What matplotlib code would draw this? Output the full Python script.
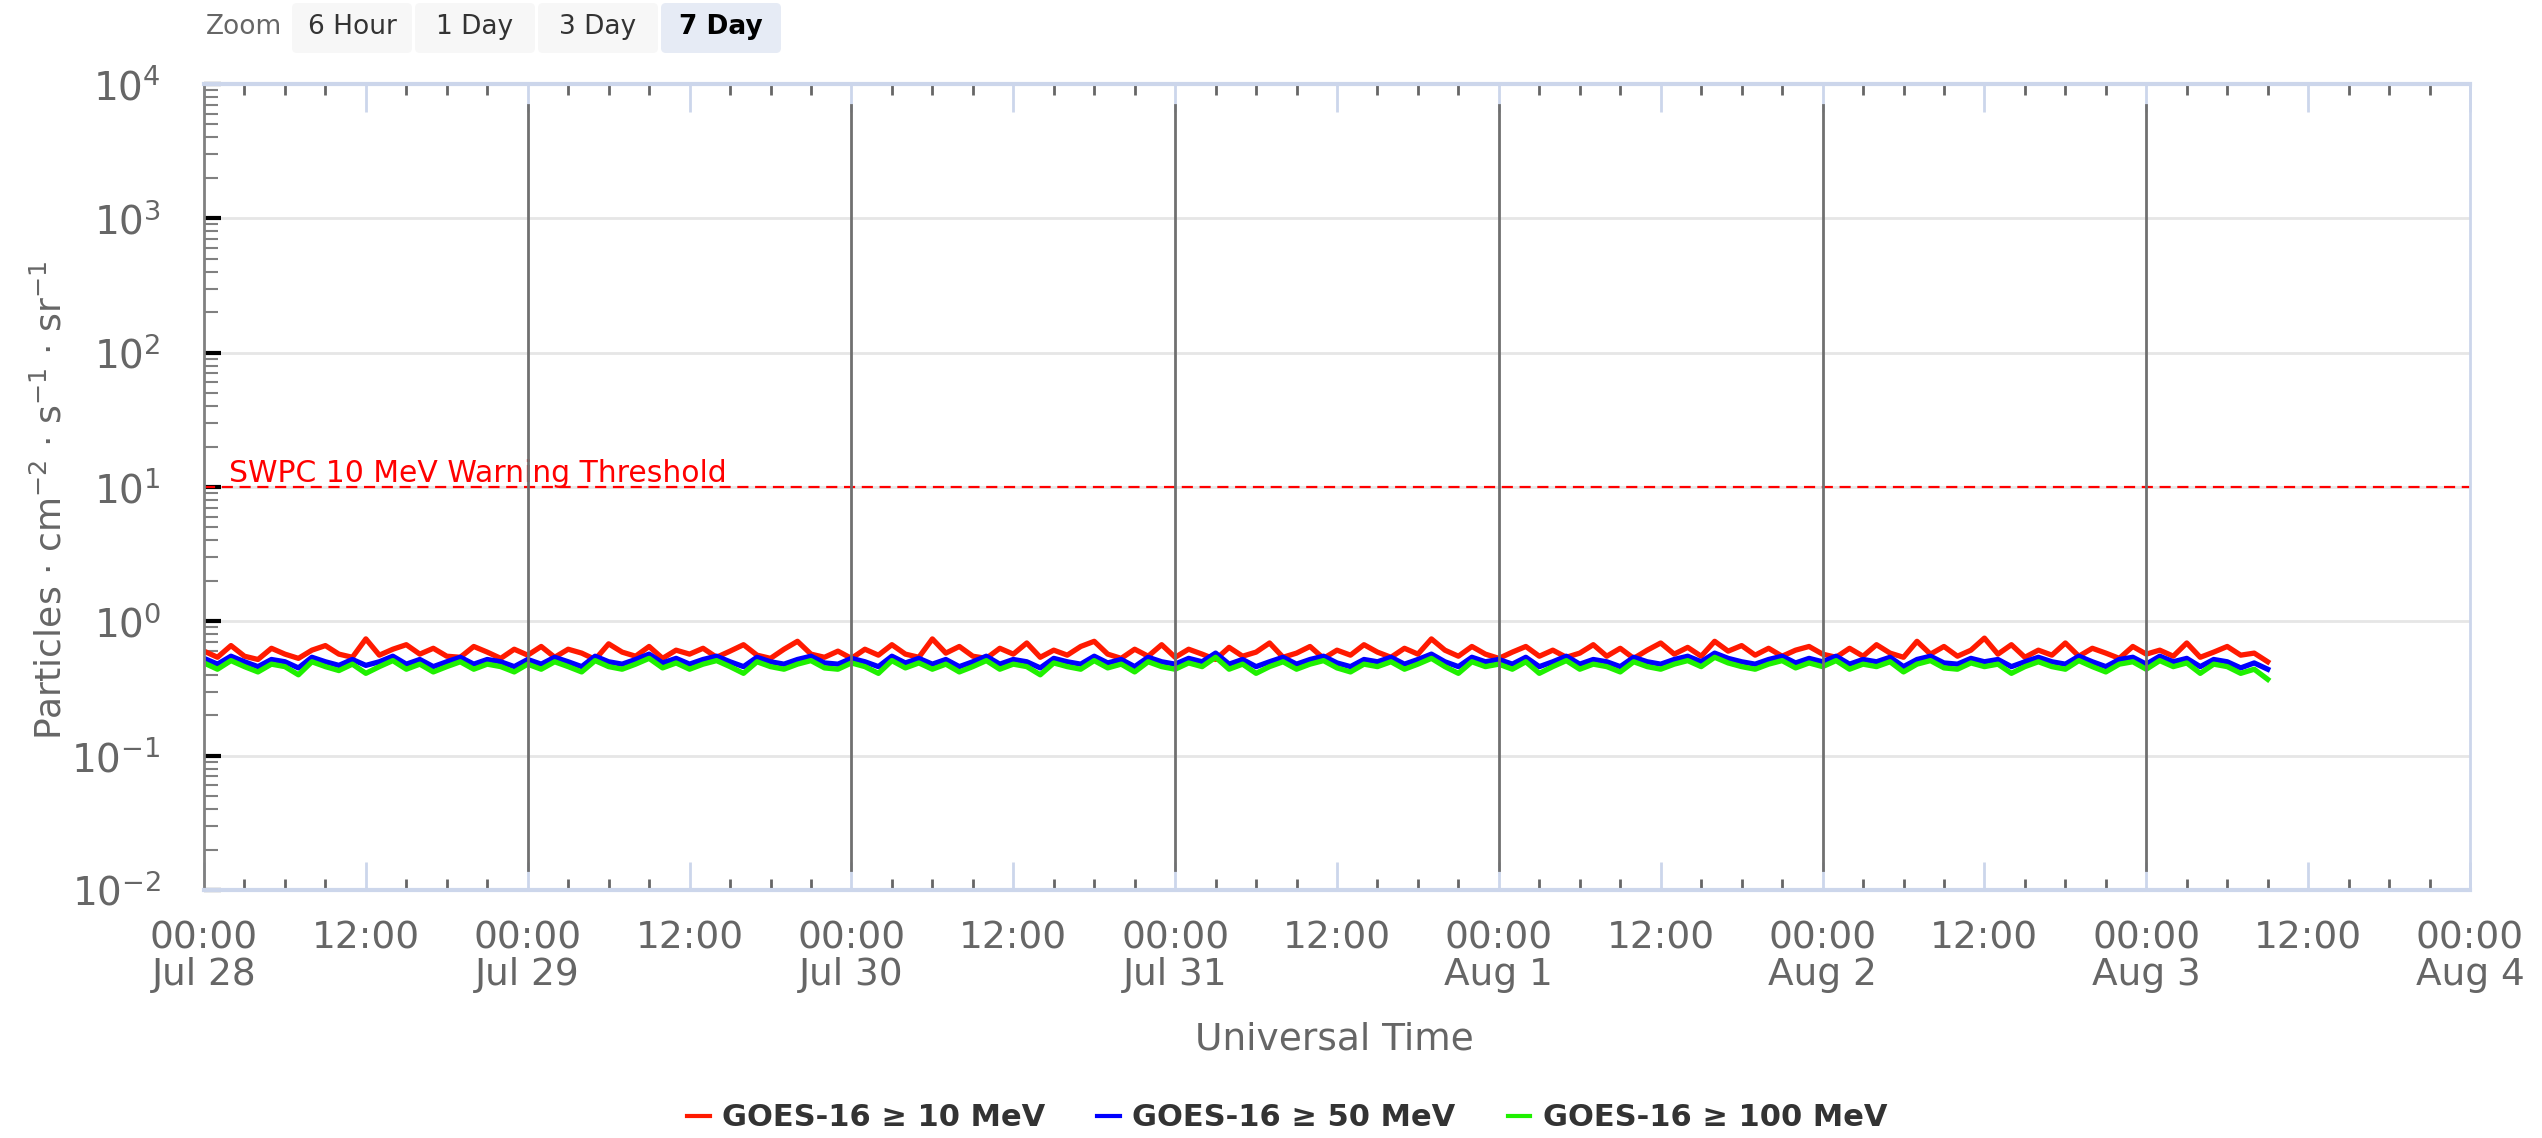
import numpy as np
import pandas as pd
import matplotlib
matplotlib.use('Agg')
import matplotlib.pyplot as plt
import matplotlib.dates as mdates
from matplotlib.ticker import LogLocator, FuncFormatter, NullFormatter
from matplotlib.patches import FancyBboxPatch
from matplotlib.transforms import IdentityTransform
from matplotlib.lines import Line2D

plt.rcParams['font.family'] = ['DejaVu Sans']
plt.rcParams['mathtext.fontset'] = 'dejavusans'

# Dados (fluxo horario, a partir de 28 Jul 00:00 UT)
inicio = '2023-07-28 00:00'
limite_x = (np.datetime64('2023-07-28T00:00'), np.datetime64('2023-08-04T00:00'))
limite_y = (1e-2, 1e4)
limiar = 10.0
rotulo_limiar = 'SWPC 10 MeV Warning Threshold'
dias_linhas = ['2023-07-29', '2023-07-30', '2023-07-31', '2023-08-01', '2023-08-02', '2023-08-03']

p10 = [0.60, 0.54, 0.66, 0.55, 0.52, 0.63, 0.57, 0.53, 0.61, 0.66, 0.57, 0.54, 0.74, 0.56, 0.62, 0.67, 0.57, 0.63, 0.55, 0.54, 0.65, 0.59, 0.53, 0.62,
       0.56, 0.65, 0.54, 0.62, 0.58, 0.52, 0.68, 0.59, 0.55, 0.65, 0.53, 0.61, 0.57, 0.63, 0.54, 0.60, 0.67, 0.56, 0.53, 0.62, 0.71, 0.57, 0.54, 0.60,
       0.53, 0.62, 0.56, 0.67, 0.57, 0.54, 0.74, 0.58, 0.65, 0.55, 0.53, 0.63, 0.57, 0.69, 0.54, 0.61, 0.56, 0.65, 0.71, 0.57, 0.53, 0.62, 0.55, 0.67,
       0.54, 0.62, 0.57, 0.52, 0.64, 0.55, 0.59, 0.69, 0.54, 0.58, 0.65, 0.53, 0.61, 0.56, 0.67, 0.59, 0.54, 0.63, 0.57, 0.74, 0.61, 0.55, 0.65, 0.57,
       0.53, 0.59, 0.65, 0.55, 0.61, 0.54, 0.58, 0.67, 0.55, 0.63, 0.53, 0.61, 0.69, 0.57, 0.64, 0.55, 0.71, 0.60, 0.66, 0.56, 0.63, 0.55, 0.61, 0.65,
       0.57, 0.54, 0.63, 0.55, 0.67, 0.58, 0.54, 0.71, 0.57, 0.65, 0.55, 0.61, 0.75, 0.57, 0.67, 0.54, 0.61, 0.56, 0.69, 0.55, 0.63, 0.58, 0.53, 0.65,
       0.57, 0.61, 0.55, 0.69, 0.54, 0.59, 0.65, 0.56, 0.58, 0.50]
p50 = [0.53, 0.48, 0.55, 0.50, 0.46, 0.52, 0.50, 0.45, 0.54, 0.50, 0.47, 0.52, 0.47, 0.50, 0.55, 0.48, 0.52, 0.46, 0.50, 0.54, 0.48, 0.52, 0.50, 0.46,
       0.52, 0.48, 0.54, 0.50, 0.46, 0.55, 0.50, 0.48, 0.52, 0.57, 0.49, 0.53, 0.48, 0.52, 0.55, 0.50, 0.46, 0.54, 0.50, 0.48, 0.52, 0.55, 0.49, 0.48,
       0.53, 0.50, 0.46, 0.55, 0.49, 0.53, 0.48, 0.52, 0.46, 0.50, 0.55, 0.48, 0.52, 0.50, 0.45, 0.53, 0.50, 0.48, 0.55, 0.49, 0.52, 0.46, 0.54, 0.50,
       0.48, 0.53, 0.50, 0.58, 0.48, 0.52, 0.46, 0.50, 0.54, 0.48, 0.52, 0.55, 0.49, 0.46, 0.52, 0.50, 0.54, 0.48, 0.52, 0.57, 0.50, 0.46, 0.54, 0.50,
       0.52, 0.48, 0.54, 0.46, 0.50, 0.55, 0.48, 0.52, 0.50, 0.46, 0.54, 0.50, 0.48, 0.52, 0.55, 0.50, 0.58, 0.53, 0.50, 0.48, 0.52, 0.55, 0.49, 0.53,
       0.50, 0.55, 0.48, 0.52, 0.50, 0.54, 0.46, 0.52, 0.55, 0.49, 0.48, 0.53, 0.50, 0.52, 0.46, 0.50, 0.54, 0.50, 0.48, 0.55, 0.50, 0.46, 0.52, 0.54,
       0.48, 0.55, 0.50, 0.53, 0.46, 0.52, 0.50, 0.45, 0.49, 0.44]
p100 = [0.49, 0.44, 0.51, 0.46, 0.42, 0.48, 0.46, 0.40, 0.50, 0.46, 0.43, 0.48, 0.41, 0.46, 0.51, 0.44, 0.48, 0.42, 0.46, 0.50, 0.44, 0.48, 0.46, 0.42,
        0.48, 0.44, 0.50, 0.46, 0.42, 0.51, 0.46, 0.44, 0.48, 0.53, 0.45, 0.49, 0.44, 0.48, 0.51, 0.46, 0.41, 0.50, 0.46, 0.44, 0.48, 0.51, 0.45, 0.44,
        0.49, 0.46, 0.41, 0.51, 0.45, 0.49, 0.44, 0.48, 0.42, 0.46, 0.51, 0.44, 0.48, 0.46, 0.40, 0.49, 0.46, 0.44, 0.51, 0.45, 0.48, 0.42, 0.50, 0.46,
        0.44, 0.49, 0.46, 0.54, 0.44, 0.48, 0.41, 0.46, 0.50, 0.44, 0.48, 0.51, 0.45, 0.42, 0.48, 0.46, 0.50, 0.44, 0.48, 0.53, 0.46, 0.41, 0.50, 0.46,
        0.48, 0.44, 0.50, 0.41, 0.46, 0.51, 0.44, 0.48, 0.46, 0.42, 0.50, 0.46, 0.44, 0.48, 0.51, 0.46, 0.54, 0.49, 0.46, 0.44, 0.48, 0.51, 0.45, 0.49,
        0.46, 0.51, 0.44, 0.48, 0.46, 0.50, 0.42, 0.48, 0.51, 0.45, 0.44, 0.49, 0.46, 0.48, 0.41, 0.46, 0.50, 0.46, 0.44, 0.51, 0.46, 0.42, 0.48, 0.50,
        0.44, 0.51, 0.46, 0.49, 0.41, 0.48, 0.46, 0.41, 0.44, 0.37]

series = [
    ('GOES-16 \u2265 10 MeV', p10, '#ff1a00'),
    ('GOES-16 \u2265 50 MeV', p50, '#0000ff'),
    ('GOES-16 \u2265 100 MeV', p100, '#1ff000'),
]
botoes = ['6 Hour', '1 Day', '3 Day', '7 Day']
botao_ativo = '7 Day'

# Figura em pixels
W, H = 2542, 1138
fig = plt.figure(figsize=(W / 100, H / 100), dpi=100)
ax = fig.add_axes([204 / W, 1 - 890 / H, (2470 - 204) / W, (890 - 84) / H])

tempos = pd.date_range(inicio, periods=len(p10), freq='h').to_numpy()
for nome, valores, cor in series:
    ax.plot(tempos, valores, color=cor, lw=3.8, zorder=2, solid_joinstyle='round')

# Linha de alerta
ax.axhline(limiar, color='#ff0000', lw=1.6, ls=(0, (5, 3)), zorder=2)
ax.text(0.011, limiar * 1.09, rotulo_limiar, transform=ax.get_yaxis_transform(),
        color='#ff0000', fontsize=21.5, va='baseline', ha='left')

# Linhas verticais dos dias
for d in dias_linhas:
    ax.axvline(np.datetime64(d), ymin=0.025, ymax=0.974, color='#707070', lw=2, zorder=3)

ax.set_yscale('log')
ax.set_ylim(limite_y)
ax.set_xlim(limite_x)

ax.yaxis.set_major_locator(LogLocator(base=10, numticks=10))
ax.yaxis.set_minor_locator(LogLocator(base=10, subs=np.arange(2, 10), numticks=20))
ax.yaxis.set_minor_formatter(NullFormatter())
ax.yaxis.grid(True, which='major', color='#e6e6e6', lw=2)
ax.set_axisbelow(True)


def rotulo(v, pos):
    d = mdates.num2date(v)
    if d.hour == 0:
        return f'{d:%H:%M}\n{d:%b} {d.day}'
    return f'{d:%H:%M}'


ax.xaxis.set_major_locator(mdates.HourLocator(byhour=[0, 12]))
ax.xaxis.set_minor_locator(mdates.HourLocator(byhour=range(0, 24, 3)))
ax.xaxis.set_major_formatter(FuncFormatter(rotulo))

ax.tick_params(axis='x', which='major', direction='in', length=20, width=2, color='#ccd6eb',
               top=True, bottom=True, labelsize=27, labelcolor='#666666', pad=22)
ax.tick_params(axis='x', which='minor', direction='in', length=8, width=2, color='#666666',
               top=True, bottom=True)
ax.tick_params(axis='y', which='major', direction='in', length=12, width=3, color='black',
               labelsize=28, labelcolor='#666666', pad=31)
ax.tick_params(axis='y', which='minor', direction='in', length=10, width=1.5, color='#808080')

ax.spines['left'].set_color('#808080')
ax.spines['left'].set_linewidth(2)
for lado, lw in [('top', 3), ('bottom', 3), ('right', 2)]:
    ax.spines[lado].set_color('#ccd6eb')
    ax.spines[lado].set_linewidth(lw)

ax.set_xlabel('Universal Time', fontsize=27, color='#666666')
ax.xaxis.set_label_coords(0.499, -0.186)
ax.xaxis.label.set_va('center')
ax.set_ylabel('Particles \u00b7 cm$^{-2}$ \u00b7 s$^{-1}$ \u00b7 sr$^{-1}$', fontsize=26, color='#666666')
ax.yaxis.set_label_coords(-0.068, 0.484)
ax.yaxis.label.set_va('center')

# Legenda
alcas = [Line2D([], [], color=cor, lw=3) for _, _, cor in series]
leg = fig.legend(alcas, [s[0] for s in series], loc='center', bbox_to_anchor=(1287 / W, 1 - 1118 / H),
                 ncol=3, frameon=False, handlelength=0.75, handletextpad=0.4, columnspacing=1.7,
                 prop={'size': 22, 'weight': 'bold'})
for t in leg.get_texts():
    t.set_color('#333333')

# Botoes de zoom (em pixels da figura)
fig.text(206 / W, 1 - 27 / H, 'Zoom', fontsize=19, color='#666666', ha='left', va='center')
for i, b in enumerate(botoes):
    x0 = 292 + i * 123
    ativo = b == botao_ativo
    caixa = FancyBboxPatch((x0, H - 53), 120, 50, boxstyle='round,pad=0,rounding_size=5',
                           transform=IdentityTransform(), facecolor='#e6ebf5' if ativo else '#f7f7f7',
                           edgecolor='none')
    fig.add_artist(caixa)
    fig.text((x0 + 60) / W, 1 - 27 / H, b, fontsize=19, ha='center', va='center',
             color='black' if ativo else '#333333', weight='bold' if ativo else 'normal')

# espacamento entre as duas linhas dos rotulos de data
fig.canvas.draw()
for tick in ax.xaxis.get_major_ticks():
    tick.label1.set_linespacing(1.02)

fig.savefig('out.png', dpi=100)
